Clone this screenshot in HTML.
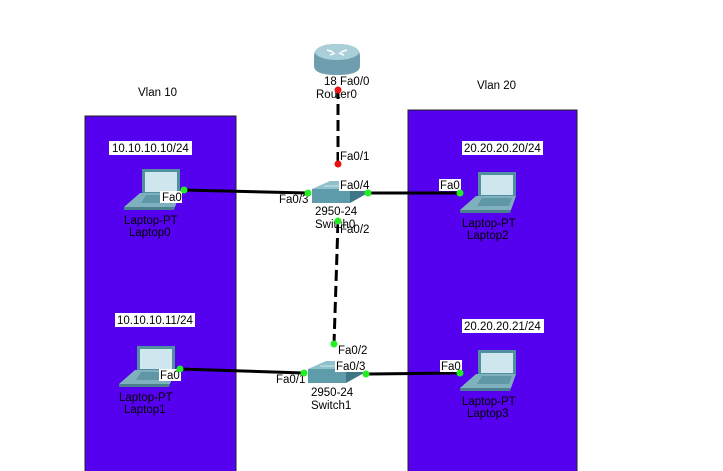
<!DOCTYPE html>
<html><head><meta charset="utf-8"><style>
html,body{margin:0;padding:0;background:#fff;}
svg{display:block;font-family:"Liberation Sans",sans-serif;font-size:11.5px;}
</style></head><body>
<svg width="723" height="471" viewBox="0 0 723 471" xmlns="http://www.w3.org/2000/svg">
<defs>
<g id="lap">
 <rect x="18" y="0" width="38" height="24" fill="#4f8fa0"/>
 <rect x="21" y="3" width="32" height="20" fill="#cfe6ef"/>
 <polygon points="16,24 56,24 51,38 0,38" fill="#7fb0be"/>
 <polygon points="22,26 52,26 49,34 17,34" fill="#5f97a7"/>
 <polygon points="0,38 51,38 50,41 0,41" fill="#4a7f8f"/>
</g>
<g id="sw">
 <polygon points="0,8 18,0 56,0 38,8" fill="#8fc0cc"/>
 <rect x="0" y="8" width="38" height="14" fill="#5e9bab"/>
 <polygon points="38,8 56,0 56,12 38,22" fill="#3f7686"/>
 <line x1="12" y1="5" x2="40" y2="5" stroke="#cfe3ea"/>
</g>
</defs>
<rect x="85" y="116" width="151" height="360" fill="#5500ee" stroke="#222" stroke-width="1"/>
<rect x="408" y="110" width="169" height="366" fill="#5500ee" stroke="#222" stroke-width="1"/>
<text x="138" y="96" fill="#000">Vlan 10</text>
<text x="477" y="89" fill="#000">Vlan 20</text>

<g stroke="#000" stroke-width="3">
<line x1="184" y1="190" x2="308" y2="193"/>
<line x1="368" y1="193" x2="460" y2="193"/>
<line x1="180" y1="369" x2="304" y2="373"/>
<line x1="366" y1="374" x2="460" y2="373"/>
<line x1="338" y1="88" x2="338" y2="166" stroke-dasharray="11,5"/>
<line x1="338" y1="222" x2="334" y2="344" stroke-dasharray="11,5"/>
</g>

<path d="M314 56 Q314 44 337 44 Q360 44 360 56 L360 66 Q360 75 337 75 Q314 75 314 66 Z" fill="#6f9faf"/>
<ellipse cx="337" cy="52" rx="22" ry="8" fill="#a9cfda"/>
<path d="M327 50 l6 2 M347 50 l-6 2 M330 55 l5 -2 M344 55 l-5 -2" stroke="#fff" stroke-width="1.5"/>
<text x="324" y="85">18</text>
<rect x="338" y="75" width="34" height="12" fill="#fff"/><text x="340" y="85">Fa0/0</text>
<text x="316" y="98">Router0</text>

<use href="#sw" x="312" y="181"/>
<use href="#sw" x="308" y="361"/>
<use href="#lap" x="124" y="169"/>
<use href="#lap" x="119" y="346"/>
<use href="#lap" x="460" y="172"/>
<use href="#lap" x="460" y="350"/>

<g fill="#fff"><rect x="109" y="141" width="83" height="14"/><rect x="115" y="313" width="80" height="14"/><rect x="462" y="141" width="81" height="14"/><rect x="462" y="319" width="82" height="14"/></g>
<text x="112" y="152">10.10.10.10/24</text>
<text x="117" y="324">10.10.10.11/24</text>
<text x="464" y="152">20.20.20.20/24</text>
<text x="464" y="330">20.20.20.21/24</text>

<g fill="#fff">
<rect x="160" y="191" width="22" height="12"/><rect x="159" y="369" width="22" height="12"/>
<rect x="439" y="179" width="22" height="12"/><rect x="440" y="360" width="22" height="12"/>
<rect x="339" y="179" width="30" height="12"/><rect x="335" y="360" width="30" height="12"/>
<rect x="339" y="150" width="30" height="12"/><rect x="339" y="223" width="30" height="12"/><rect x="336" y="344" width="30" height="12"/>
</g>
<g fill="#000">
<text x="162" y="201">Fa0</text><text x="160" y="379">Fa0</text>
<text x="440" y="189">Fa0</text><text x="441" y="370">Fa0</text>
<text x="340" y="189">Fa0/4</text><text x="336" y="370">Fa0/3</text>
<text x="340" y="160">Fa0/1</text><text x="340" y="233">Fa0/2</text><text x="338" y="354">Fa0/2</text>
<text x="279" y="203">Fa0/3</text><text x="276" y="383">Fa0/1</text>
<text x="315" y="215">2950-24</text><text x="315" y="228">Switch0</text>
<text x="311" y="396">2950-24</text><text x="311" y="409">Switch1</text>
<text x="124" y="224">Laptop-PT</text><text x="129" y="236">Laptop0</text>
<text x="119" y="401">Laptop-PT</text><text x="124" y="413">Laptop1</text>
<text x="462" y="227">Laptop-PT</text><text x="467" y="239">Laptop2</text>
<text x="462" y="405">Laptop-PT</text><text x="467" y="417">Laptop3</text>
</g>

<g fill="#22ee22">
<circle cx="184" cy="190" r="3.5"/><circle cx="308" cy="193" r="3.5"/><circle cx="368" cy="193" r="3.5"/><circle cx="460" cy="193" r="3.5"/>
<circle cx="180" cy="369" r="3.5"/><circle cx="304" cy="373" r="3.5"/><circle cx="366" cy="374" r="3.5"/><circle cx="460" cy="373" r="3.5"/>
<circle cx="338" cy="221" r="3.5"/><circle cx="334" cy="344" r="3.5"/>
</g>
<g fill="#ee1111"><circle cx="338" cy="90" r="3.5"/><circle cx="338" cy="164" r="3.5"/></g>
</svg>
</body></html>
